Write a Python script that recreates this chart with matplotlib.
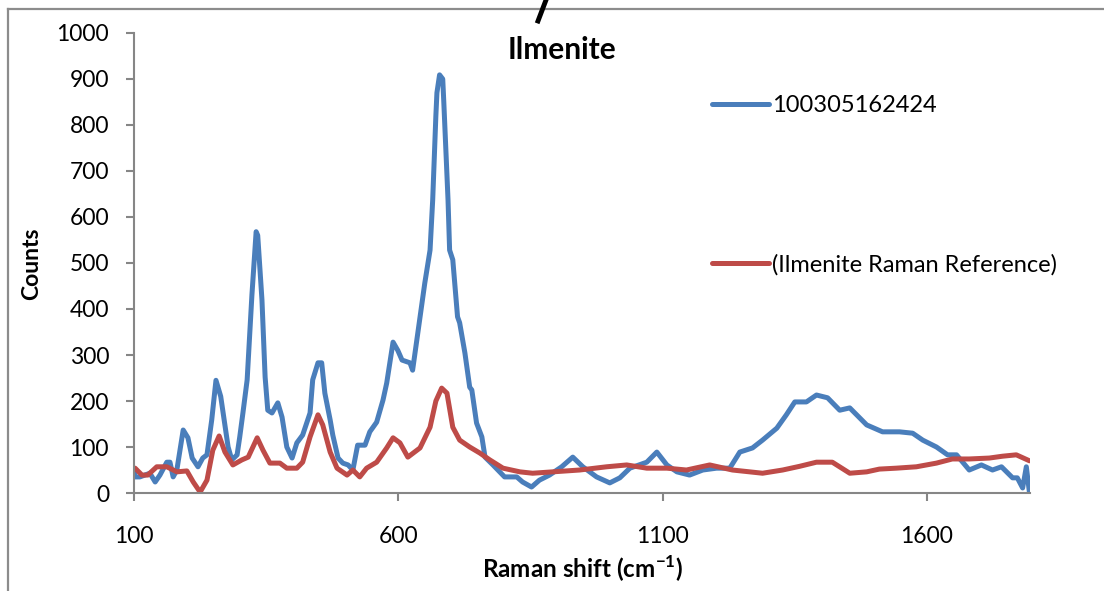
import matplotlib
matplotlib.use("Agg")
import matplotlib.pyplot as plt
from matplotlib.lines import Line2D

plt.rcParams["font.family"] = ["Lato", "DejaVu Sans"]

# measured spectrum (Raman shift, counts)
shift_meas = [100, 102, 111, 130, 140, 149, 162, 168, 174, 181, 193, 202, 210, 221,
              230, 238, 247, 255, 264, 278, 285, 295, 300, 306, 314, 323, 331, 334,
              342, 348, 353, 361, 372, 380, 389, 399, 408, 419, 433, 438, 448, 455,
              461, 471, 476, 486, 495, 505, 514, 523, 537, 546, 559, 571, 578, 590,
              599, 607, 622, 627, 641, 650, 660, 665, 671, 673, 678, 684, 686, 694,
              697, 703, 712, 716, 726, 735, 739, 748, 758, 764, 779, 801, 824, 835,
              852, 867, 886, 909, 930, 949, 975, 1000, 1019, 1038, 1070, 1089, 1108,
              1127, 1151, 1176, 1202, 1227, 1246, 1270, 1289, 1316, 1334, 1350, 1372,
              1391, 1412, 1435, 1454, 1486, 1516, 1548, 1573, 1592, 1618, 1639, 1656,
              1680, 1703, 1724, 1741, 1762, 1771, 1781, 1788, 1794]
counts_meas = [50, 35, 35, 43, 24, 39, 67, 67, 35, 50, 137, 120, 76, 57,
               76, 83, 159, 245, 210, 100, 72, 83, 122, 174, 246, 430, 568, 560,
               420, 252, 180, 174, 196, 165, 100, 76, 109, 126, 174, 246, 283, 283,
               217, 159, 126, 76, 65, 61, 50, 104, 104, 133, 154, 202, 239, 328,
               310, 289, 283, 267, 383, 456, 528, 637, 820, 870, 909, 900, 850, 637,
               528, 507, 383, 370, 304, 230, 224, 152, 122, 78, 61, 35, 35, 24,
               13, 28, 39, 57, 78, 57, 35, 22, 33, 54, 67, 89, 61,
               46, 39, 50, 54, 54, 89, 98, 115, 141, 170, 198, 198,
               213, 207, 180, 185, 148, 133, 133, 130, 115, 100, 83, 83,
               50, 61, 50, 57, 33, 33, 11, 57, 0]

# reference spectrum
shift_ref = [102, 115, 126, 143, 162, 181, 200, 212, 225, 238, 249, 261, 272, 287,
             304, 316, 333, 344, 357, 376, 389, 408, 419, 433, 448, 457, 471, 484,
             503, 514, 527, 540, 559, 578, 590, 603, 618, 641, 660, 671, 682, 692,
             703, 716, 735, 754, 773, 798, 830, 854, 892, 943, 994, 1032, 1070,
             1108, 1145, 1189, 1232, 1289, 1327, 1359, 1391, 1421, 1454, 1486,
             1510, 1542, 1580, 1618, 1648, 1680, 1718, 1743, 1769, 1794]
counts_ref = [54, 39, 39, 57, 57, 46, 48, 24, 2, 28, 93, 124, 89, 61,
              72, 78, 120, 93, 65, 65, 54, 54, 67, 122, 170, 148, 89, 54,
              39, 50, 35, 54, 67, 98, 120, 109, 78, 98, 143, 200, 228, 217,
              143, 115, 100, 87, 72, 54, 46, 43, 46, 50, 57, 61, 54,
              54, 50, 61, 50, 43, 50, 58, 67, 67, 43, 46,
              52, 54, 57, 65, 74, 74, 76, 80, 83, 70]

x_ticks = [100, 600, 1100, 1600]
y_ticks = list(range(0, 1001, 100))

blue = "#4A7EBB"
red = "#BE4B48"
axis_grey = "#868686"

W, H = 1104, 591
fig = plt.figure(figsize=(W / 100, H / 100), dpi=100)
ax = fig.add_axes([0.1214, 0.1658, 0.8116, 0.7784])

ax.plot(shift_meas, counts_meas, color=blue, lw=3.6, solid_joinstyle="round",
        solid_capstyle="round", label="100305162424")
ax.plot(shift_ref, counts_ref, color=red, lw=3.6, solid_joinstyle="round",
        solid_capstyle="round", label="(Ilmenite Raman Reference)")

ax.set_xlim(100, 1795)
ax.set_ylim(0, 1000)
ax.set_xticks(x_ticks)
ax.set_yticks(y_ticks)
for side in ("top", "right"):
    ax.spines[side].set_visible(False)
for side in ("left", "bottom"):
    ax.spines[side].set_color(axis_grey)
    ax.spines[side].set_linewidth(1.5)
ax.tick_params(axis="both", direction="out", length=6, width=1.5, color=axis_grey,
               labelsize=16.5, labelcolor="black")
ax.tick_params(axis="x", pad=18)
ax.tick_params(axis="y", pad=12)

fig.text(562 / W, 1 - 50 / H, "Ilmenite", fontsize=21.5, fontweight="bold",
         ha="center", va="center")
fig.text(32 / W, 1 - 264 / H, "Counts", fontsize=16.5, fontweight="bold",
         rotation=90, ha="center", va="center")
fig.text(583 / W, 1 - 569 / H, "Raman shift (cm$^{\\mathregular{-1}}$)",
         fontsize=17.5, fontweight="bold", ha="center", va="center")

ax.legend(loc="upper left", bbox_to_anchor=(712 / W, 1 - 95 / H),
          bbox_transform=fig.transFigure, frameon=False, fontsize=17,
          handlelength=2.4, handletextpad=0.15, labelspacing=5.85, borderpad=0,
          borderaxespad=0)

# outer chart frame and the stray stroke above the title
fig.add_artist(Line2D([8 / W, 1.0], [1 - 9 / H, 1 - 9 / H], color="#8c8c8c", lw=1.6))
fig.add_artist(Line2D([8 / W, 8 / W], [0.0, 1 - 9 / H], color="#8c8c8c", lw=1.6))
fig.add_artist(Line2D([546 / W, 538 / W], [1.0, 1 - 21 / H], color="black", lw=3.5))

fig.savefig("out.png", dpi=100)
